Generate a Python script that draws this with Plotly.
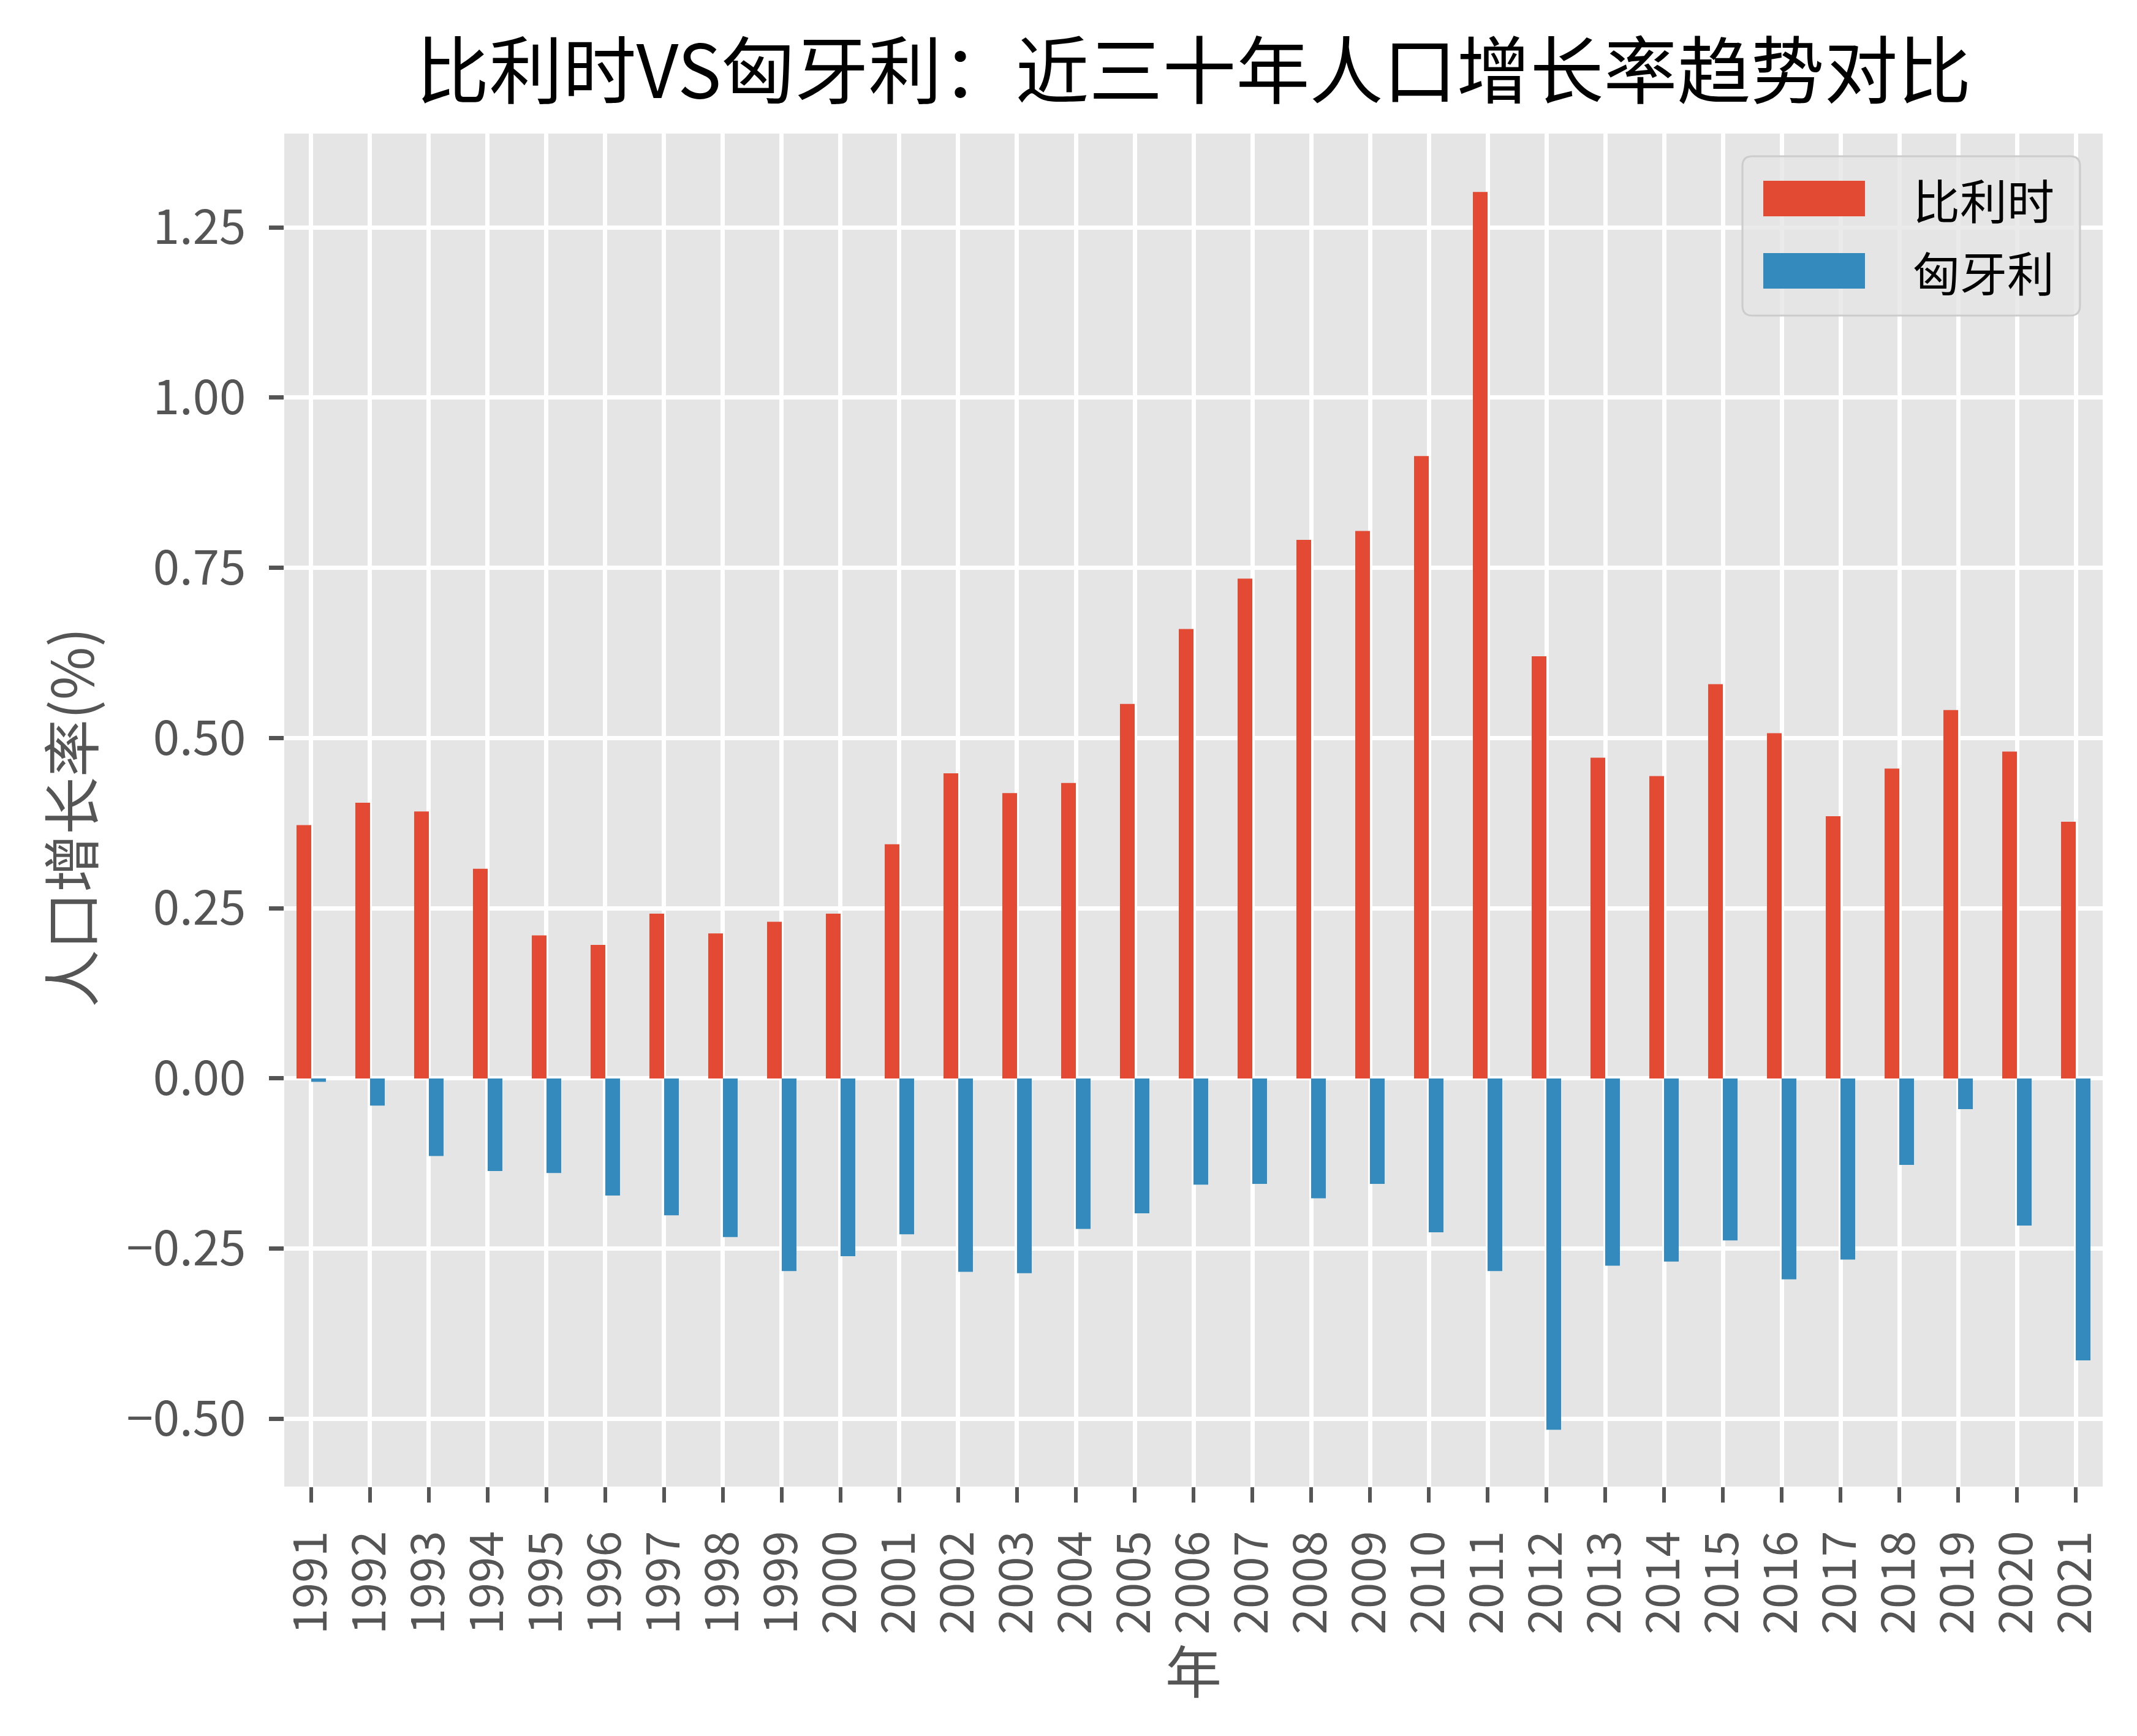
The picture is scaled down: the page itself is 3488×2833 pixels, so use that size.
import plotly.graph_objects as go

years = [str(y) for y in range(1991, 2022)]
series_names = ["比利时", "匈牙利"]
series_colors = ["#E24A33", "#348ABD"]
belgium = [0.372, 0.405, 0.392, 0.308, 0.210, 0.196, 0.242, 0.213, 0.230, 0.242,
           0.344, 0.448, 0.419, 0.434, 0.550, 0.660, 0.734, 0.791, 0.804, 0.914,
           1.302, 0.620, 0.471, 0.444, 0.579, 0.507, 0.385, 0.455, 0.541, 0.480, 0.377]
hungary = [-0.005, -0.040, -0.114, -0.136, -0.139, -0.172, -0.201, -0.233, -0.283, -0.261,
           -0.229, -0.284, -0.286, -0.221, -0.198, -0.156, -0.155, -0.176, -0.155, -0.226,
           -0.283, -0.516, -0.275, -0.269, -0.238, -0.295, -0.266, -0.127, -0.045, -0.216, -0.414]
y_ticks = [-0.5, -0.25, 0.0, 0.25, 0.5, 0.75, 1.0, 1.25]

W, H = 3488, 2833
L, R, T, B = 456, 64, 210, 415
PW, PH = W - L - R, H - T - B
FONT = "Noto Sans CJK SC"
GREY = "#555555"


def px_x(p):
    return (p - L) / PW


def px_y(p):
    return (H - B - p) / PH


fig = go.Figure()
for name, vals, col in zip(series_names, [belgium, hungary], series_colors):
    fig.add_trace(go.Bar(x=years, y=vals, name=name, marker=dict(color=col, line=dict(width=0)),
                         showlegend=False))

# legend drawn manually (matplotlib-style wide patches)
shapes = []
x0, x1, y0, y1 = 2836, 3387, 247, 507
r = 16
rx, ry = r / PW, r / PH
X0, X1, Y0, Y1 = px_x(x0), px_x(x1), px_y(y1), px_y(y0)
path = (f"M{X0+rx},{Y0} L{X1-rx},{Y0} Q{X1},{Y0} {X1},{Y0+ry} L{X1},{Y1-ry} Q{X1},{Y1} {X1-rx},{Y1} "
        f"L{X0+rx},{Y1} Q{X0},{Y1} {X0},{Y1-ry} L{X0},{Y0+ry} Q{X0},{Y0} {X0+rx},{Y0} Z")
shapes.append(dict(type="path", xref="paper", yref="paper", path=path,
                   fillcolor="rgba(229,229,229,0.8)", line=dict(color="#CCCCCC", width=3), layer="above"))
annotations = []
row_centers = [316, 434]
for name, col, cy in zip(series_names, series_colors, row_centers):
    shapes.append(dict(type="rect", xref="paper", yref="paper",
                       x0=px_x(2870), x1=px_x(3036), y0=px_y(cy + 29), y1=px_y(cy - 29),
                       fillcolor=col, line=dict(width=0), layer="above"))
    annotations.append(dict(text=name, xref="paper", yref="paper", x=px_x(3112), y=px_y(cy),
                            xanchor="left", yanchor="middle", showarrow=False,
                            font=dict(family=FONT, size=77, color="black")))

annotations.append(dict(text="人口增长率(%)", xref="paper", yref="paper", x=px_x(104), y=px_y(1326),
                        xanchor="center", yanchor="middle", textangle=-90, showarrow=False,
                        font=dict(family=FONT, size=94, color=GREY)))
annotations.append(dict(text="年", xref="paper", yref="paper", x=0.5, y=px_y(2714),
                        xanchor="center", yanchor="middle", showarrow=False,
                        font=dict(family=FONT, size=92, color=GREY)))

fig.update_layout(
    width=W, height=H,
    margin=dict(l=L, r=R, t=T, b=B, autoexpand=False),
    paper_bgcolor="white", plot_bgcolor="#E5E5E5",
    barmode="group", bargap=0.5, bargroupgap=0,
    title=dict(text="比利时VS匈牙利：近三十年人口增长率趋势对比", x=0.5, xref="paper",
               y=1 - 110 / H, yref="container", xanchor="center", yanchor="middle",
               font=dict(family=FONT, size=120, color="black")),
    font=dict(family=FONT, size=78, color=GREY),
    shapes=shapes, annotations=annotations,
    showlegend=False,
)
fig.update_xaxes(type="category", range=[-0.458, 30.458], showgrid=True, gridcolor="white", gridwidth=6.5,
                 ticks="outside", ticklen=25, tickwidth=6, tickcolor=GREY, tickangle=-90,
                 tickfont=dict(family=FONT, size=76, color=GREY), ticklabelstandoff=16,
                 showline=False, zeroline=False)
fig.update_yaxes(range=[-0.5995, 1.3877], tickvals=y_ticks, tickformat=".2f",
                 showgrid=True, gridcolor="white", gridwidth=6.5,
                 ticks="outside", ticklen=24, tickwidth=6.5, tickcolor=GREY,
                 tickfont=dict(family=FONT, size=78, color=GREY), ticklabelstandoff=22,
                 showline=False, zeroline=False)

fig.write_html("out.html")
